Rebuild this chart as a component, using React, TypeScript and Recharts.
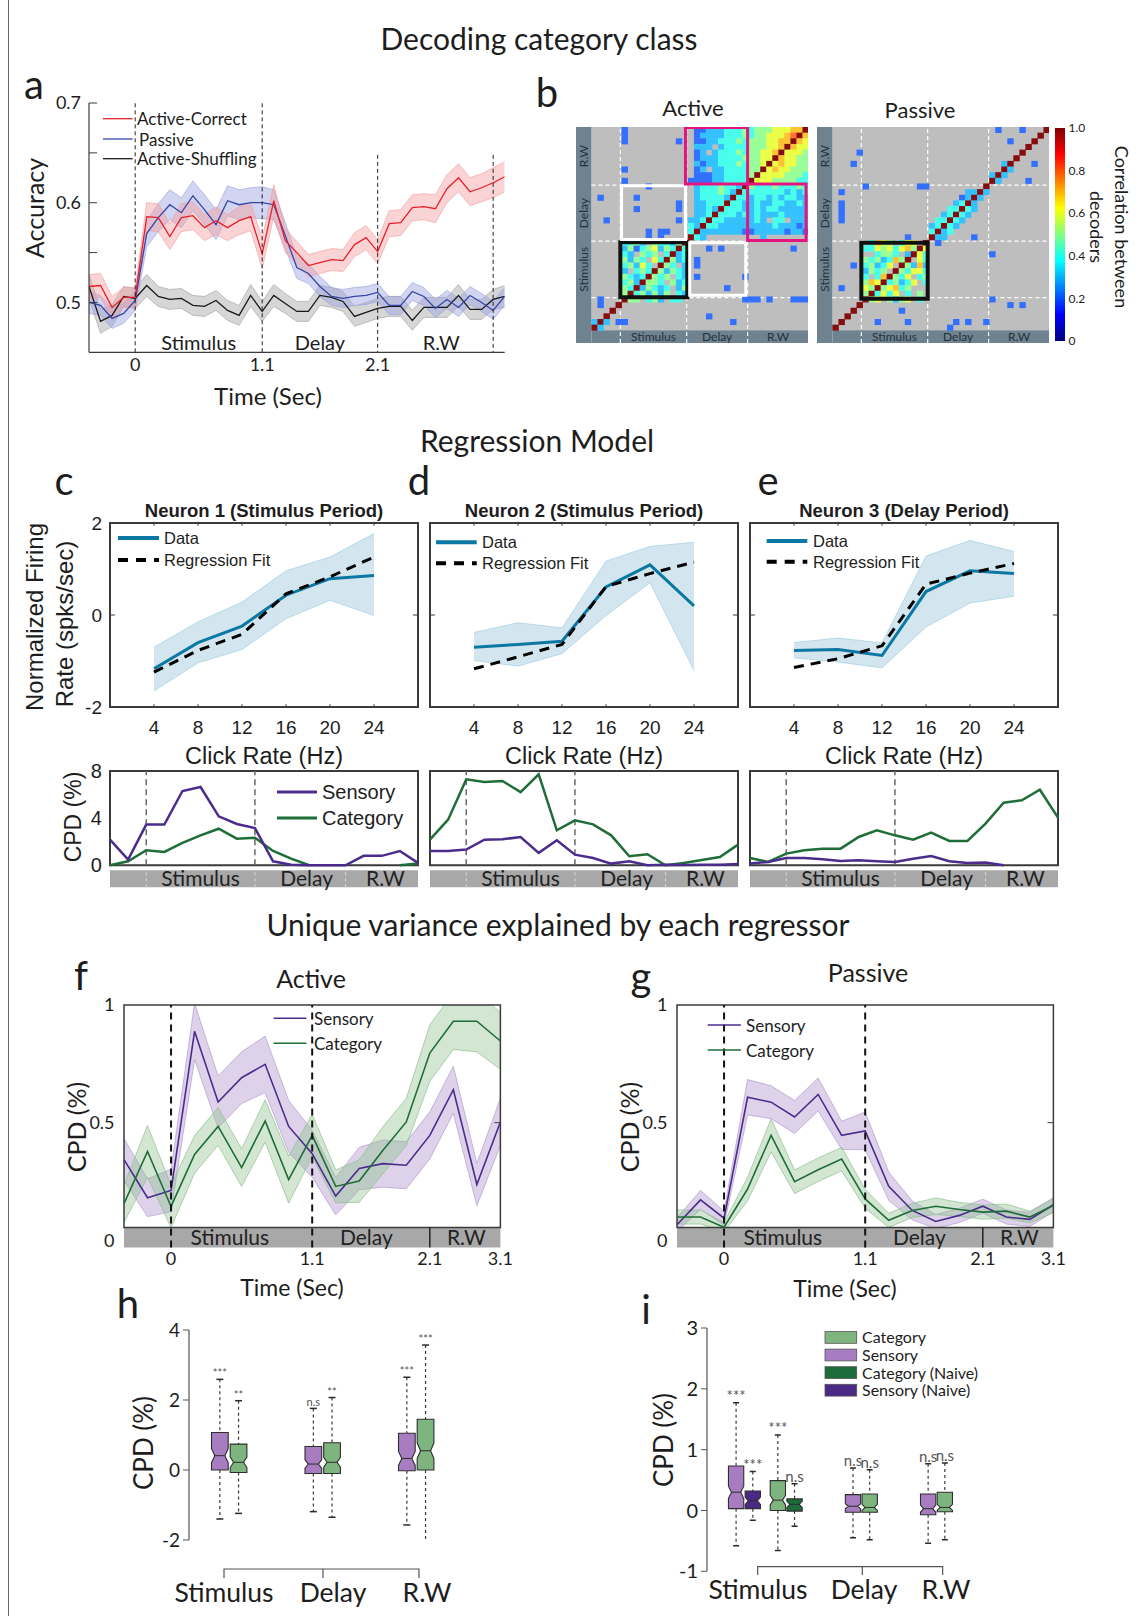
import React from "react";
import {
  ComposedChart,
  ScatterChart,
  BarChart,
  Area,
  Line,
  Bar,
  Scatter,
  XAxis,
  YAxis,
  ReferenceLine,
  ReferenceArea,
} from "recharts";

// ─── Shared styling ─────────────────────────────────────────────────────────

const LATO = "Lato, 'Open Sans', sans-serif";
const ARIAL = "'Liberation Sans', Arial, sans-serif";
const INK = "#1d1d1d";
const FRAME = "#3b3b3b";
const BAR_GRAY = "#a8a8a8";
const SENS = "#4b2c8c";
const CAT = "#1f6d37";

// ─── a: decoding accuracy ───────────────────────────────────────────────────

const ACC_TIME = [
  -0.4, -0.3, -0.2, -0.1, 0, 0.1, 0.2, 0.3, 0.4, 0.5, 0.6, 0.7, 0.8, 0.9, 1.0, 1.1, 1.2, 1.3, 1.4,
  1.5, 1.6, 1.7, 1.8, 1.9, 2.0, 2.1, 2.2, 2.3, 2.4, 2.5, 2.6, 2.7, 2.8, 2.9, 3.0, 3.1, 3.2,
];
const ACC_ACTIVE = [
  0.516, 0.517, 0.495, 0.505, 0.505, 0.586, 0.585, 0.566, 0.585, 0.587, 0.575, 0.582, 0.575, 0.582,
  0.586, 0.549, 0.602, 0.562, 0.55, 0.537, 0.54, 0.543, 0.542, 0.558, 0.565, 0.551, 0.579, 0.58,
  0.595, 0.596, 0.594, 0.614, 0.625, 0.611, 0.615, 0.62, 0.626,
];
const ACC_ACTIVE_SEM = [
  0.012, 0.012, 0.011, 0.01, 0.01, 0.014, 0.014, 0.013, 0.014, 0.014, 0.013, 0.014, 0.013, 0.014,
  0.014, 0.015, 0.016, 0.012, 0.011, 0.011, 0.011, 0.011, 0.011, 0.012, 0.012, 0.012, 0.013, 0.013,
  0.013, 0.013, 0.014, 0.014, 0.014, 0.014, 0.014, 0.015, 0.015,
];
const ACC_PASSIVE = [
  0.5, 0.497, 0.484, 0.489, 0.502, 0.569, 0.585, 0.598, 0.59, 0.607, 0.593, 0.578, 0.602, 0.598,
  0.6, 0.6, 0.598, 0.567, 0.535, 0.529, 0.516, 0.506, 0.504, 0.506, 0.507, 0.51, 0.497, 0.497,
  0.511, 0.506, 0.494, 0.503, 0.495, 0.507, 0.5, 0.492, 0.506,
];
const ACC_PASSIVE_SEM = [
  0.011, 0.01, 0.01, 0.01, 0.01, 0.013, 0.014, 0.015, 0.015, 0.015, 0.015, 0.015, 0.015, 0.015,
  0.015, 0.016, 0.015, 0.013, 0.011, 0.01, 0.01, 0.009, 0.009, 0.009, 0.009, 0.009, 0.009, 0.009,
  0.009, 0.009, 0.009, 0.009, 0.009, 0.009, 0.009, 0.009, 0.009,
];
const ACC_SHUFFLE = [
  0.516, 0.481, 0.487, 0.506, 0.504, 0.517, 0.506, 0.503, 0.504, 0.497, 0.496, 0.502, 0.492, 0.487,
  0.507, 0.491, 0.507, 0.499, 0.491, 0.491, 0.507, 0.505, 0.501, 0.486, 0.49, 0.494, 0.496, 0.496,
  0.482, 0.495, 0.495, 0.495, 0.507, 0.493, 0.493, 0.503, 0.506,
];
const ACC_SHUFFLE_SEM = [
  0.012, 0.012, 0.011, 0.01, 0.01, 0.011, 0.01, 0.01, 0.01, 0.01, 0.01, 0.01, 0.01, 0.01, 0.011,
  0.01, 0.011, 0.01, 0.01, 0.01, 0.01, 0.01, 0.01, 0.01, 0.01, 0.01, 0.01, 0.01, 0.01, 0.01, 0.01,
  0.01, 0.011, 0.01, 0.01, 0.01, 0.011,
];
const ACC_TICKS = [0.5, 0.55, 0.6, 0.65, 0.7];
const ACC_X_TICKS = [0, 1.1, 2.1];
const ACC_PERIODS = [
  { name: "Stimulus", from: 0, to: 1.1 },
  { name: "Delay", from: 1.1, to: 2.1 },
  { name: "R.W", from: 2.1, to: 3.2 },
];

const band = (m: number[], s: number[], i: number) => [m[i] - s[i], m[i] + s[i]];

const accData = ACC_TIME.map((t, i) => ({
  t,
  active: ACC_ACTIVE[i],
  activeBand: band(ACC_ACTIVE, ACC_ACTIVE_SEM, i),
  passive: ACC_PASSIVE[i],
  passiveBand: band(ACC_PASSIVE, ACC_PASSIVE_SEM, i),
  shuffle: ACC_SHUFFLE[i],
  shuffleBand: band(ACC_SHUFFLE, ACC_SHUFFLE_SEM, i),
}));

// ─── b: decoder correlation matrices (36 x 36 bins, top row first) ──────────
// '.' = not significant (grey), digits = tenths of correlation, X = 1.0

const ACTIVE_MATRIX = [
  "..... 2.......... .223334445 455566677X",
  "..... 2.......... .233334445 45566678X7",
  "..... 2........2. .223344454 5556677X76",
  "..... ........... .333.34444 555667X766",
  "..... ........... .23.344454 55667X6665",
  "..... ........... .233344445 5566X76655",
  "..... ........... .323344454 556X676655",
  "..... 2.......... .23.334444 55X6766555",
  "..... ........... .222334444 5X66665554",
  "..... 2.......... 2222334444 X666555544",
  "..... ....2...... .34445443X 5444544454",
  "..... ........... .3444543X4 4444443434",
  ".2... ..2........ .344443X44 3443434433",
  "..... .........2. .33444X443 3433443343",
  "..... ..2......2. .3343X4443 3434433333",
  "..... ........... .334X44434 3433343333",
  "..2.. .........2. 334X443333 343.44.333",
  "..... ........... 43X4433333 3333433323",
  "..... ....2.22... 4X33333332 2333332332",
  "..... ....2.2.... X43....... ..3.......",
  "..... 4453.54435X .......... ..........",
  "..... 352456354X4 ...2.2.... .......2..",
  "..... 43.545.4X34 .......... ..........",
  "..... 5354.64X534 .2........ ..........",
  "..... 45364.X54.3 .2........ ..........",
  "..... 3.454X53543 .......... ..........",
  "..... 5434X545.43 .2.......2 ..........",
  "..... 453X554.534 .......... ..........",
  "..... 54X35434.35 ......2... ..........",
  "..... 5X453535.43 .......... ..........",
  ".2... X55.453.44. .........2 22.2...222",
  ".2..X ........... .......... ..........",
  "...X. ........... .......... ..........",
  "..X.. ........... ...2...... ..........",
  "3X3.2 2.......... .......2.. ..........",
  "X3... ........... .......... ..........",
];

const PASSIVE_MATRIX = [
  "..... ........... .......... .2...2...X",
  "..... ........... .......... ........X.",
  "..... ........... .......... ...2...X..",
  "..... ........... .......... ......X...",
  "....2 ........... .......... .....X....",
  "..... ........... .......... ....X.....",
  "...2. ........... .......... ..3X...2..",
  "..... ........... .......... ..X3......",
  "..... ........... .......... 3X3.......",
  "..... ........... .......... X3....2...",
  "..... 2........22 .........X ..........",
  ".2... ........... ......33X3 ..........",
  "..... ........... .....23X3. ..........",
  ".2... ........... ....34X3.. ..........",
  ".2... ........... ...44X43.. ..........",
  ".2... ........... ..34X43... ..........",
  ".2... ........... .44X43.... ..........",
  "..... ........... 34X43..... ..........",
  "..... ........... 4X34...... ..........",
  "..... .......2... X33....2.. ..........",
  "..... .4765.466.X .2........ ..........",
  "..... 446564675X6 .......... ..........",
  "..... ..4554.3X64 .......... 2.........",
  "..... 5453475X.64 .......... ..........",
  "...2. 45346.X5373 .......... ..........",
  "..... 3545.X54664 .......... ..........",
  "..... 4.47X546.45 .......... ..........",
  "..... 576X45346.4 .......... ..........",
  ".2... 65X56745... .......... ..........",
  "..... 5X4646.4.5. .......... ..........",
  "..... X56.5356.4. .......... 2.........",
  "....X ........... .......... ...2.2....",
  "...X. ......2.... .......... ..........",
  "..X.. ........... .......... ..........",
  ".X... ..2....2... ....2.2..2 ..........",
  "X.... ........... ...2...... ..........",
];

const HEAT_N = 36;
const HEAT_COL_BOUNDS = [4.8, 15.8, 25.9, 36];
const HEAT_ROW_BOUNDS = [5.8, 15.8, 25.7, 36];
const HEAT_PERIODS = ["Stimulus", "Delay", "R.W"];
const CBAR_TICKS = [0, 0.2, 0.4, 0.6, 0.8, 1.0];
const CBAR_DATA = [{ k: "bar", v: 1 }];
const JET_STOPS = [0, 0.125, 0.375, 0.625, 0.875, 1];

const ACTIVE_BOXES = [
  { x1: 4.8, x2: 15.9, y1: 5.85, y2: 15.6, color: "#111111", w: 4 },
  { x1: 5.0, x2: 15.6, y1: 16.1, y2: 25.6, color: "#ffffff", w: 3 },
  { x1: 16.3, x2: 25.6, y1: 6.2, y2: 15.5, color: "#ffffff", w: 3 },
  { x1: 15.6, x2: 25.9, y1: 25.9, y2: 35.9, color: "#e4157f", w: 3 },
  { x1: 25.9, x2: 35.6, y1: 15.9, y2: 25.9, color: "#e4157f", w: 3 },
];
const PASSIVE_BOXES = [{ x1: 4.8, x2: 15.8, y1: 5.6, y2: 15.5, color: "#111111", w: 4 }];

function parseMatrix(rows: string[]) {
  const cells: { x: number; y: number; v: number }[] = [];
  rows.forEach((row, i) => {
    const r = HEAT_N - 1 - i;
    row
      .replace(/ /g, "")
      .split("")
      .forEach((ch, c) => {
        if (ch === ".") return;
        cells.push({ x: c + 0.5, y: r + 0.5, v: ch === "X" ? 1 : Number(ch) / 10 });
      });
  });
  return cells;
}

// MATLAB jet, softened a little toward white like the printed figure
function jet(v: number, soften = 0) {
  const f = (a: number) => {
    const c = Math.max(0, Math.min(1, 1.5 - Math.abs(4 * v - a)));
    return Math.round(255 * (c + (1 - c) * soften));
  };
  return `rgb(${f(3)},${f(2)},${f(1)})`;
}

// ─── c–e: single neuron regression ──────────────────────────────────────────

const CLICK_RATES = [4, 8, 12, 16, 20, 24];
const N1_DATA = [-1.17, -0.6, -0.24, 0.43, 0.79, 0.86];
const N1_UPPER = [-0.7, -0.15, 0.28, 0.96, 1.26, 1.77];
const N1_LOWER = [-1.65, -1.04, -0.75, -0.08, 0.32, -0.01];
const N1_FIT = [-1.24, -0.77, -0.42, 0.46, 0.83, 1.26];
const N2_DATA = [-0.7, -0.64, -0.57, 0.61, 1.09, 0.2];
const N2_UPPER = [-0.38, -0.17, -0.28, 1.17, 1.49, 1.58];
const N2_LOWER = [-0.99, -1.11, -0.84, -0.01, 0.7, -1.2];
const N2_FIT = [-1.17, -0.91, -0.64, 0.62, 0.9, 1.15];
const N3_DATA = [-0.77, -0.75, -0.88, 0.51, 0.96, 0.9];
const N3_UPPER = [-0.6, -0.5, -0.61, 1.28, 1.62, 1.38];
const N3_LOWER = [-0.93, -1.02, -1.15, -0.26, 0.26, 0.41];
const N3_FIT = [-1.14, -0.95, -0.67, 0.67, 0.91, 1.12];

const CPD_BINS = [0, 1, 2, 3, 4, 5, 6, 7, 8, 9, 10, 11, 12, 13, 14, 15, 16, 17];
const N1_SENS = [2.17, 0.48, 3.45, 3.45, 6.3, 6.64, 4.15, 3.5, 3.16, 0.34, 0.05, 0, 0, 0, 0.8, 0.8, 1.21, 0.2];
const N1_CAT = [0, 0.34, 1.27, 1.13, 1.9, 2.54, 3.1, 2.26, 2.34, 1.21, 0.56, 0, null, null, null, null, 0, 0.14];
const N2_SENS = [1.21, 1.21, 1.33, 2.17, 2.2, 2.4, 1.05, 2.12, 0.9, 0.62, 0.14, 0.34, 0, 0.05, 0.02, 0.05, 0.05, 0.1];
const N2_CAT = [2.17, 3.87, 7.29, 7.06, 7.15, 6.21, 7.71, 2.97, 3.81, 3.47, 2.54, 0.76, 0.93, 0, 0.2, 0.45, 0.7, 1.75];
const N3_SENS = [0.14, 0.28, 0.62, 0.62, 0.51, 0.37, 0.42, 0.34, 0.28, 0.56, 0.79, 0.34, 0.2, 0.23, 0, null, null, null];
const N3_CAT = [0.62, 0.28, 0.99, 1.27, 1.41, 1.41, 2.4, 2.97, 2.54, 2.17, 2.77, 2.06, 2.06, 3.53, 5.31, 5.51, 6.41, 4.04];
const NEURON_PERIODS = [
  { name: "Stimulus", from: 2, to: 8 },
  { name: "Delay", from: 8, to: 13.7 },
  { name: "R.W", from: 13.4, to: 17 },
];

// ─── f–g: population CPD ────────────────────────────────────────────────────

const TIME_BINS = [0, 1, 2, 3, 4, 5, 6, 7, 8, 9, 10, 11, 12, 13, 14, 15, 16];
const TIME_TICKS = [2, 8, 13, 16];
const TIME_TICK_LABELS: Record<number, string> = { 2: "0", 8: "1.1", 13: "2.1", 16: "3.1" };
const F_SENS = [0.343, 0.181, 0.212, 0.888, 0.588, 0.691, 0.748, 0.484, 0.368, 0.188, 0.305, 0.326, 0.319, 0.446, 0.64, 0.237, 0.503];
const F_SENS_SEM = [0.09, 0.08, 0.09, 0.12, 0.11, 0.11, 0.12, 0.11, 0.1, 0.08, 0.09, 0.1, 0.1, 0.1, 0.1, 0.09, 0.1];
const F_CAT = [0.156, 0.378, 0.144, 0.365, 0.484, 0.309, 0.507, 0.258, 0.446, 0.229, 0.252, 0.382, 0.503, 0.796, 0.931, 0.931, 0.847];
const F_CAT_SEM = [0.08, 0.11, 0.09, 0.08, 0.08, 0.08, 0.09, 0.1, 0.09, 0.07, 0.09, 0.1, 0.1, 0.12, 0.12, 0.13, 0.12];
const G_SENS = [0.066, 0.172, 0.094, 0.608, 0.587, 0.524, 0.62, 0.446, 0.465, 0.23, 0.127, 0.08, 0.106, 0.145, 0.099, 0.089, 0.151];
const G_SENS_SEM = [0.03, 0.04, 0.03, 0.075, 0.07, 0.07, 0.07, 0.06, 0.08, 0.06, 0.04, 0.03, 0.03, 0.03, 0.03, 0.03, 0.03];
const G_CAT = [0.099, 0.099, 0.056, 0.218, 0.446, 0.249, 0.3, 0.345, 0.176, 0.085, 0.127, 0.145, 0.131, 0.12, 0.124, 0.099, 0.148];
const G_CAT_SEM = [0.03, 0.03, 0.02, 0.05, 0.07, 0.05, 0.05, 0.05, 0.04, 0.03, 0.03, 0.035, 0.03, 0.03, 0.03, 0.025, 0.03];
const TIME_PERIODS = [
  { name: "Stimulus", from: 1, to: 8 },
  { name: "Delay", from: 8, to: 12.6 },
  { name: "R.W", from: 13.1, to: 16 },
];

// ─── h–i: CPD box plots ─────────────────────────────────────────────────────

const H_POS = [0, 1, 5, 6, 10, 11];
const H_KIND = ["sens", "cat", "sens", "cat", "sens", "cat"];
const H_LOW = [-1.4, -1.24, -1.19, -1.35, -1.57, -2.11];
const H_Q1 = [0.0, -0.07, -0.1, -0.1, -0.02, 0.0];
const H_MED = [0.41, 0.22, 0.17, 0.22, 0.33, 0.55];
const H_Q3 = [1.07, 0.74, 0.67, 0.78, 1.05, 1.45];
const H_HIGH = [2.59, 1.98, 1.76, 2.07, 2.65, 3.57];
const H_NOTCH = [0.2, 0.15, 0.12, 0.14, 0.2, 0.22];
const H_SIG = ["***", "**", "n.s", "**", "***", "***"];

const I_POS = [0, 2, 5, 7, 14, 16, 23, 25];
const I_KIND = ["sens", "sensN", "cat", "catN", "sens", "cat", "sens", "cat"];
const I_LOW = [-0.58, -0.16, -0.66, -0.26, -0.45, -0.48, -0.54, -0.48];
const I_Q1 = [0.03, 0.03, 0.0, -0.01, -0.03, -0.03, -0.07, -0.02];
const I_MED = [0.3, 0.16, 0.17, 0.1, 0.07, 0.05, 0.03, 0.05];
const I_Q3 = [0.73, 0.32, 0.49, 0.19, 0.26, 0.27, 0.27, 0.3];
const I_HIGH = [1.77, 0.64, 1.24, 0.44, 0.7, 0.67, 0.77, 0.78];
const I_NOTCH = [0.1, 0.06, 0.08, 0.05, 0.04, 0.05, 0.06, 0.05];
const I_SIG = ["***", "***", "***", "n.s", "n.s", "n.s", "n.s", "n.s"];

const BOX_FILL: Record<string, string> = {
  sens: "#a77cc0",
  cat: "#7eb57f",
  sensN: "#4a2a84",
  catN: "#1d6b38",
};
const I_LEGEND = [
  { label: "Category", kind: "cat" },
  { label: "Sensory", kind: "sens" },
  { label: "Category (Naive)", kind: "catN" },
  { label: "Sensory (Naive)", kind: "sensN" },
];

function boxTable(n: number, pos: number[], cols: any) {
  const rows: any[] = Array.from({ length: n }, (_, k) => ({ slot: k }));
  pos.forEach((p, i) => {
    rows[p] = {
      slot: p,
      kind: cols.kind[i],
      low: cols.low[i],
      q1: cols.q1[i],
      med: cols.med[i],
      q3: cols.q3[i],
      high: cols.high[i],
      notch: cols.notch[i],
      sig: cols.sig[i],
    };
  });
  return rows;
}

const hData = boxTable(12, H_POS, { kind: H_KIND, low: H_LOW, q1: H_Q1, med: H_MED, q3: H_Q3, high: H_HIGH, notch: H_NOTCH, sig: H_SIG });
const iData = boxTable(26, I_POS, { kind: I_KIND, low: I_LOW, q1: I_Q1, med: I_MED, q3: I_Q3, high: I_HIGH, notch: I_NOTCH, sig: I_SIG });

// ─── Helpers ────────────────────────────────────────────────────────────────

function At({ x, y, children }: { x: number; y: number; children: React.ReactNode }) {
  return <div style={{ position: "absolute", left: x, top: y }}>{children}</div>;
}

function Txt({ x, y, size, children, font = LATO, rotate = 0, weight = 400, left = false }: any) {
  return (
    <div
      style={{
        position: "absolute",
        left: x,
        top: y,
        transform: `translate(${left ? "0" : "-50%"}, -50%) rotate(${rotate}deg)`,
        fontFamily: font,
        fontSize: size,
        fontWeight: weight,
        color: INK,
        lineHeight: 1,
        whiteSpace: "nowrap",
      }}
    >
      {children}
    </div>
  );
}

const seg = (x1: number, y1: number, x2: number, y2: number) => [
  { x: x1, y: y1 },
  { x: x2, y: y2 },
];

// ─── Panels ─────────────────────────────────────────────────────────────────

function PanelA() {
  const P = { x: 88.8, y: 102.7, w: 415.7, h: 249.3 };
  const L = 60, T = 16, R = 10, B = 32;
  const fmt = (v: number) => (Math.abs(v * 10 - Math.round(v * 10)) < 1e-6 ? v.toFixed(1) : "");
  const tick = { fontSize: 18, fill: INK, fontFamily: LATO };
  return (
    <At x={P.x - L} y={P.y - T}>
      <ComposedChart width={L + P.w + R} height={T + P.h + B} data={accData} margin={{ top: T, right: R, bottom: 0, left: 0 }}>
        <XAxis type="number" dataKey="t" domain={[-0.4, 3.2]} allowDataOverflow ticks={ACC_X_TICKS} interval={0} height={B} tickLine={false} tickSize={0} tickMargin={6} axisLine={{ stroke: FRAME, strokeWidth: 1.2 }} tick={tick} />
        <YAxis type="number" domain={[0.45, 0.7]} allowDataOverflow ticks={ACC_TICKS} interval={0} width={L} tickLine={false} tickSize={0} tickMargin={8} axisLine={{ stroke: FRAME, strokeWidth: 1.2 }} tick={tick} tickFormatter={fmt} />
        <Area dataKey="shuffleBand" stroke="#a0a0a0" strokeWidth={0.6} fill="#b5b5b5" fillOpacity={0.55} isAnimationActive={false} />
        <Area dataKey="passiveBand" stroke="#98a0dc" strokeWidth={0.6} fill="#9aa2e0" fillOpacity={0.45} isAnimationActive={false} />
        <Area dataKey="activeBand" stroke="#f29a9a" strokeWidth={0.6} fill="#f3a0a0" fillOpacity={0.45} isAnimationActive={false} />
        <Line dataKey="shuffle" stroke="#1a1a1a" strokeWidth={1.3} dot={false} isAnimationActive={false} />
        <Line dataKey="passive" stroke="#3446a8" strokeWidth={1.3} dot={false} isAnimationActive={false} />
        <Line dataKey="active" stroke="#e8202a" strokeWidth={1.3} dot={false} isAnimationActive={false} />
        <ReferenceLine x={0} stroke="#222" strokeDasharray="4 3" />
        <ReferenceLine x={1.1} stroke="#222" strokeDasharray="4 3" />
        <ReferenceLine segment={seg(2.1, 0.648, 2.1, 0.45)} stroke="#222" strokeDasharray="4 3" />
        <ReferenceLine segment={seg(3.1, 0.648, 3.1, 0.45)} stroke="#222" strokeDasharray="4 3" />
        {ACC_TICKS.map((v) => (
          <ReferenceLine key={v} segment={seg(-0.4, v, -0.33, v)} stroke={FRAME} />
        ))}
        {ACC_PERIODS.map((p) => (
          <ReferenceArea key={p.name} x1={p.from} x2={p.to} y1={0.45} y2={0.468} fill="none" stroke="none" label={{ value: p.name, position: "center", fontSize: 20, fill: INK, fontFamily: LATO }} />
        ))}
      </ComposedChart>
    </At>
  );
}

const HM = { top: 126.7, w: 232.5, h: 216, side: 15.4, bottom: 12.7 };
const HM_CW = (HM.w - HM.side) / HEAT_N;
const HM_CH = (HM.h - HM.bottom) / HEAT_N;
const HM_X0 = -HM.side / HM_CW;
const HM_Y0 = -HM.bottom / HM_CH;

function Heatmap({ left, rows, boxes }: { left: number; rows: string[]; boxes: any[] }) {
  const cells = parseMatrix(rows);
  const CellShape = (p: any) => (
    <rect x={p.cx - HM_CW / 2} y={p.cy - HM_CH / 2} width={HM_CW + 0.4} height={HM_CH + 0.4} fill={jet(p.payload.v, p.payload.v === 1 ? 0.05 : 0.2)} />
  );
  const barLabel = { fontSize: 12, fill: "#26313a", fontFamily: LATO };
  return (
    <At x={left} y={HM.top}>
      <ScatterChart width={HM.w} height={HM.h} margin={{ top: 0, right: 0, bottom: 0, left: 0 }}>
        <XAxis type="number" dataKey="x" domain={[HM_X0, HEAT_N]} hide allowDataOverflow />
        <YAxis type="number" dataKey="y" domain={[HM_Y0, HEAT_N]} hide allowDataOverflow />
        <ReferenceArea x1={0} x2={HEAT_N} y1={0} y2={HEAT_N} fill="#bebebe" fillOpacity={1} zIndex={-10} />
        <ReferenceArea x1={HM_X0} x2={0} y1={HM_Y0} y2={HEAT_N} fill="#6f8290" fillOpacity={1} />
        <ReferenceArea x1={0} x2={HEAT_N} y1={HM_Y0} y2={0} fill="#6f8290" fillOpacity={1} />
        {HEAT_PERIODS.map((name, i) => (
          <ReferenceArea key={"c" + name} x1={HEAT_COL_BOUNDS[i]} x2={HEAT_COL_BOUNDS[i + 1]} y1={HM_Y0} y2={0} fill="none" label={{ value: name, position: "center", ...barLabel }} />
        ))}
        {HEAT_PERIODS.map((name, i) => (
          <ReferenceArea key={"r" + name} x1={HM_X0} x2={0} y1={HEAT_ROW_BOUNDS[i]} y2={HEAT_ROW_BOUNDS[i + 1]} fill="none" label={{ value: name, position: "center", angle: -90, ...barLabel }} />
        ))}
        <Scatter data={cells} shape={CellShape} isAnimationActive={false} />
        {HEAT_COL_BOUNDS.slice(0, 3).map((c) => (
          <ReferenceLine key={"vx" + c} segment={seg(c, HM_Y0, c, HEAT_N)} stroke="#ffffff" strokeWidth={1.2} strokeDasharray="4 3" />
        ))}
        {HEAT_ROW_BOUNDS.slice(0, 3).map((r) => (
          <ReferenceLine key={"hy" + r} segment={seg(0, r, HEAT_N, r)} stroke="#ffffff" strokeWidth={1.2} strokeDasharray="4 3" />
        ))}
        {boxes.map((b, i) => (
          <ReferenceArea key={"b" + i} x1={b.x1} x2={b.x2} y1={b.y1} y2={b.y2} fill="none" stroke={b.color} strokeWidth={b.w} zIndex={900} />
        ))}
      </ScatterChart>
    </At>
  );
}

function Colorbar() {
  const P = { x: 1055, y: 128, w: 9.5, h: 213 };
  const T = 10, R = 40;
  return (
    <At x={P.x} y={P.y - T}>
      <BarChart width={P.w + R} height={P.h + 2 * T} data={CBAR_DATA} margin={{ top: T, right: 0, bottom: T, left: 0 }} barCategoryGap={0}>
        <XAxis type="category" dataKey="k" hide />
        <YAxis orientation="right" type="number" domain={[0, 1]} ticks={CBAR_TICKS} interval={0} width={R} tickLine={false} axisLine={false} tickSize={0} tickMargin={4} tick={{ fontSize: 12, fill: INK, fontFamily: LATO }} tickFormatter={(v: number) => (v === 0 ? "0" : v.toFixed(1))} />
        <Bar dataKey="v" fill="url(#jetBar)" isAnimationActive={false} />
      </BarChart>
    </At>
  );
}

function NeuronFit({ left, data, upper, lower, fit, yTicks }: any) {
  const P = { x: left, y: 522.7, w: 308, h: 184 };
  const L = 50, T = 16, R = 4, B = 36;
  const rows = CLICK_RATES.map((rate, i) => ({ rate, data: data[i], fit: fit[i], band: [lower[i], upper[i]] }));
  const tick = { fontSize: 19, fill: INK, fontFamily: ARIAL };
  return (
    <At x={P.x - L} y={P.y - T}>
      <ComposedChart width={L + P.w + R} height={T + P.h + B} data={rows} margin={{ top: T, right: R, bottom: 0, left: 0 }}>
        <XAxis type="number" dataKey="rate" domain={[0, 28]} ticks={CLICK_RATES} interval={0} height={B} tickLine={false} axisLine={false} tickSize={0} tickMargin={14} tick={tick} />
        <YAxis type="number" domain={[-2, 2]} ticks={[-2, 0, 2]} interval={0} width={L} tickLine={false} axisLine={false} tickSize={0} tickMargin={8} tick={yTicks ? tick : false} />
        <Area dataKey="band" fill="#d3e6ef" fillOpacity={1} stroke="#a9d2e4" strokeWidth={0.8} isAnimationActive={false} />
        <Line dataKey="data" stroke="#0b77a3" strokeWidth={3} dot={false} isAnimationActive={false} />
        <Line dataKey="fit" stroke="#000000" strokeWidth={3} strokeDasharray="10 7" dot={false} isAnimationActive={false} />
        <ReferenceArea x1={0} x2={28} y1={-2} y2={2} fill="none" stroke={FRAME} strokeWidth={2} />
        {CLICK_RATES.map((r) => (
          <ReferenceLine key={"b" + r} segment={seg(r, -2, r, -1.94)} stroke={FRAME} />
        ))}
        {CLICK_RATES.map((r) => (
          <ReferenceLine key={"t" + r} segment={seg(r, 2, r, 1.94)} stroke={FRAME} />
        ))}
        <ReferenceLine segment={seg(0, 0, 0.45, 0)} stroke={FRAME} />
        <ReferenceLine segment={seg(27.55, 0, 28, 0)} stroke={FRAME} />
      </ComposedChart>
    </At>
  );
}

function NeuronCpd({ left, sens, cat, yTicks }: any) {
  const P = { x: left, y: 770.7, w: 308, h: 116.3 };
  const L = 50, T = 16, R = 4, B = 4;
  const rows = CPD_BINS.map((b, i) => ({ b, sens: sens[i], cat: cat[i] }));
  return (
    <At x={P.x - L} y={P.y - T}>
      <ComposedChart width={L + P.w + R} height={T + P.h + B} data={rows} margin={{ top: T, right: R, bottom: B, left: 0 }}>
        <XAxis type="number" dataKey="b" domain={[0, 17]} hide />
        <YAxis type="number" domain={[-1.87, 8]} ticks={[0, 4, 8]} interval={0} width={L} tickLine={false} axisLine={false} tickSize={0} tickMargin={8} tick={yTicks ? { fontSize: 20, fill: INK, fontFamily: ARIAL } : false} />
        <ReferenceArea x1={0} x2={17} y1={-1.87} y2={-0.42} fill={BAR_GRAY} fillOpacity={1} />
        {[2, 8, 13].map((x) => (
          <ReferenceLine key={"s" + x} segment={seg(x, -1.87, x, -0.42)} stroke="#dadada" strokeDasharray="3 3" />
        ))}
        {NEURON_PERIODS.map((p) => (
          <ReferenceArea key={p.name} x1={p.from} x2={p.to} y1={-1.87} y2={-0.42} fill="none" label={{ value: p.name, position: "center", fontSize: 21, fill: "#222", fontFamily: LATO }} />
        ))}
        <ReferenceLine segment={seg(2, 0, 2, 8)} stroke="#6a6a6a" strokeWidth={1.5} strokeDasharray="6 4" />
        <ReferenceLine segment={seg(8, 0, 8, 8)} stroke="#6a6a6a" strokeWidth={1.5} strokeDasharray="6 4" />
        <ReferenceArea x1={0} x2={17} y1={0} y2={8} fill="none" stroke={FRAME} strokeWidth={2} />
        <Line dataKey="cat" stroke={CAT} strokeWidth={2.5} dot={false} isAnimationActive={false} />
        <Line dataKey="sens" stroke={SENS} strokeWidth={2.5} dot={false} isAnimationActive={false} />
      </ComposedChart>
    </At>
  );
}

function TimeCpd({ left, top, sens, sensSem, cat, catSem }: any) {
  const P = { x: left, y: top, w: 376.4, h: 242.4 };
  const L = 55, T = 16, R = 22, B = 28;
  const rows = TIME_BINS.map((b, i) => ({
    b,
    sens: sens[i],
    sensBand: band(sens, sensSem, i),
    cat: cat[i],
    catBand: band(cat, catSem, i),
  }));
  const tick = { fontSize: 18, fill: INK, fontFamily: LATO };
  return (
    <At x={P.x - L} y={P.y - T}>
      <ComposedChart width={L + P.w + R} height={T + P.h + B} data={rows} margin={{ top: T, right: R, bottom: 0, left: 0 }}>
        <XAxis type="number" dataKey="b" domain={[0, 16]} ticks={TIME_TICKS} interval={0} tickFormatter={(v: number) => TIME_TICK_LABELS[v]} height={B} tickLine={false} axisLine={false} tickSize={0} tickMargin={5} tick={tick} />
        <YAxis type="number" domain={[-0.03, 1]} allowDataOverflow ticks={[0, 0.5, 1]} interval={0} width={L} tickLine={false} axisLine={false} tickSize={0} tickMargin={9.5} tick={tick} />
        <Area dataKey="sensBand" fill="#b49bd0" fillOpacity={0.45} stroke="#b49bd0" strokeWidth={0.7} isAnimationActive={false} />
        <Area dataKey="catBand" fill="#8fc08f" fillOpacity={0.4} stroke="#8fc08f" strokeWidth={0.7} isAnimationActive={false} />
        <Line dataKey="sens" stroke={SENS} strokeWidth={1.6} dot={false} isAnimationActive={false} />
        <Line dataKey="cat" stroke={CAT} strokeWidth={1.6} dot={false} isAnimationActive={false} />
        <ReferenceArea x1={0} x2={16} y1={-0.03} y2={0.055} fill={BAR_GRAY} fillOpacity={1} />
        {TIME_PERIODS.map((p) => (
          <ReferenceArea key={p.name} x1={p.from} x2={p.to} y1={-0.03} y2={0.055} fill="none" label={{ value: p.name, position: "center", fontSize: 21, fill: "#222", fontFamily: LATO }} />
        ))}
        <ReferenceArea x1={0} x2={16} y1={0.055} y2={1} fill="none" stroke={FRAME} strokeWidth={1.5} />
        <ReferenceLine segment={seg(13, -0.03, 13, 0.055)} stroke="#222" strokeWidth={1.5} />
        <ReferenceLine x={2} stroke="#111" strokeWidth={2} strokeDasharray="7 5" />
        <ReferenceLine x={8} stroke="#111" strokeWidth={2} strokeDasharray="7 5" />
        <ReferenceLine segment={seg(15.75, 0.5, 16, 0.5)} stroke={FRAME} />
      </ComposedChart>
    </At>
  );
}

function makeBoxShape(boxW: number, capW: number, sigSize: number) {
  return (props: any) => {
    const { x, y, width, height, payload } = props;
    if (!payload || payload.low == null || !height) return <g />;
    const top = Math.min(y, y + height);
    const k = Math.abs(height) / (payload.high - payload.low);
    const py = (v: number) => top + (payload.high - v) * k;
    const cx = x + width / 2;
    const x0 = cx - boxW / 2;
    const x1 = cx + boxW / 2;
    const ins = boxW * 0.2;
    const nHi = Math.min(payload.q3, payload.med + payload.notch);
    const nLo = Math.max(payload.q1, payload.med - payload.notch);
    const pts = [
      [x0, py(payload.q3)],
      [x1, py(payload.q3)],
      [x1, py(nHi)],
      [x1 - ins, py(payload.med)],
      [x1, py(nLo)],
      [x1, py(payload.q1)],
      [x0, py(payload.q1)],
      [x0, py(nLo)],
      [x0 + ins, py(payload.med)],
      [x0, py(nHi)],
    ]
      .map((p) => p.join(","))
      .join(" ");
    return (
      <g>
        <line x1={cx} x2={cx} y1={py(payload.high)} y2={py(payload.q3)} stroke="#3a3a3a" strokeWidth={1.2} strokeDasharray="3 3" />
        <line x1={cx} x2={cx} y1={py(payload.q1)} y2={py(payload.low)} stroke="#3a3a3a" strokeWidth={1.2} strokeDasharray="3 3" />
        <line x1={cx - capW / 2} x2={cx + capW / 2} y1={py(payload.high)} y2={py(payload.high)} stroke="#2a2a2a" strokeWidth={1.5} />
        <line x1={cx - capW / 2} x2={cx + capW / 2} y1={py(payload.low)} y2={py(payload.low)} stroke="#2a2a2a" strokeWidth={1.5} />
        <polygon points={pts} fill={BOX_FILL[payload.kind]} stroke="#2e2e2e" strokeWidth={1.1} />
        <line x1={x0 + ins} x2={x1 - ins} y1={py(payload.med)} y2={py(payload.med)} stroke="#2e2e2e" strokeWidth={1} />
        <text x={cx} y={py(payload.high) - 2} textAnchor="middle" fontSize={sigSize} fill="#555" fontFamily={LATO}>
          {payload.sig}
        </text>
      </g>
    );
  };
}

function BoxPanel({ plot, data, domain, ticks, padLeft, boxW, capW, sigSize, tickSize }: any) {
  const L = 60, T = 16, R = 2, B = 14;
  const Shape = makeBoxShape(boxW, capW, sigSize);
  return (
    <At x={plot.x - L} y={plot.y - T}>
      <BarChart width={L + plot.w + R} height={T + plot.h + B} data={data} margin={{ top: T, right: R, bottom: B, left: 0 }} barCategoryGap={0}>
        <XAxis type="category" dataKey="slot" hide padding={{ left: padLeft, right: 4 }} />
        <YAxis type="number" domain={domain} allowDataOverflow ticks={ticks} interval={0} width={L} tickSize={6} tickMargin={3} tickLine={{ stroke: "#555" }} axisLine={{ stroke: "#555", strokeWidth: 1.2 }} tick={{ fontSize: tickSize, fill: INK, fontFamily: LATO }} />
        <Bar dataKey={(d: any) => (d.low == null ? null : [d.low, d.high])} shape={Shape} isAnimationActive={false} />
      </BarChart>
    </At>
  );
}

// ─── App ────────────────────────────────────────────────────────────────────

export default function App() {
  return (
    <div style={{ position: "absolute", left: 0, top: 0, width: 1136, height: 1616, background: "#fff", overflow: "hidden" }}>
      <svg width={0} height={0} style={{ position: "absolute" }}>
        <defs>
          <linearGradient id="jetBar" x1="0" y1="1" x2="0" y2="0">
            {JET_STOPS.map((s) => (
              <stop key={s} offset={s} stopColor={jet(s)} />
            ))}
          </linearGradient>
        </defs>
      </svg>

      {/* section titles */}
      <Txt x={539} y={38} size={30}>Decoding category class</Txt>
      <Txt x={537} y={440} size={30}>Regression Model</Txt>
      <Txt x={558} y={924} size={30}>Unique variance explained by each regressor</Txt>

      {/* panel letters */}
      <Txt x={34} y={84} size={40}>a</Txt>
      <Txt x={547} y={92} size={40}>b</Txt>
      <Txt x={64} y={480} size={40}>c</Txt>
      <Txt x={419} y={480} size={40}>d</Txt>
      <Txt x={768} y={480} size={40}>e</Txt>
      <Txt x={81} y={975} size={40}>f</Txt>
      <Txt x={641} y={976} size={40}>g</Txt>
      <Txt x={128} y={1303} size={40}>h</Txt>
      <Txt x={646} y={1309} size={40}>i</Txt>

      {/* a */}
      <PanelA />
      <Txt x={34} y={208} size={25} rotate={-90}>Accuracy</Txt>
      <Txt x={268} y={396} size={24}>Time (Sec)</Txt>
      <Txt x={137} y={118} size={17} left>Active-Correct</Txt>
      <Txt x={139} y={138.5} size={17} left>Passive</Txt>
      <Txt x={137} y={158} size={17} left>Active-Shuffling</Txt>

      {/* b */}
      <Txt x={693} y={108} size={22}>Active</Txt>
      <Txt x={920} y={110} size={22}>Passive</Txt>
      <Heatmap left={575.6} rows={ACTIVE_MATRIX} boxes={ACTIVE_BOXES} />
      <Heatmap left={816.8} rows={PASSIVE_MATRIX} boxes={PASSIVE_BOXES} />
      <Colorbar />
      <Txt x={1122} y={227} size={18} rotate={90}>Correlation between</Txt>
      <Txt x={1097} y={227} size={18} rotate={90}>decoders</Txt>

      {/* c–e */}
      <Txt x={264} y={511} size={18.5} font={ARIAL} weight={700}>Neuron 1 (Stimulus Period)</Txt>
      <Txt x={584} y={511} size={18.5} font={ARIAL} weight={700}>Neuron 2 (Stimulus Period)</Txt>
      <Txt x={904} y={511} size={18.5} font={ARIAL} weight={700}>Neuron 3 (Delay Period)</Txt>
      <NeuronFit left={110} data={N1_DATA} upper={N1_UPPER} lower={N1_LOWER} fit={N1_FIT} yTicks />
      <NeuronFit left={430} data={N2_DATA} upper={N2_UPPER} lower={N2_LOWER} fit={N2_FIT} />
      <NeuronFit left={750} data={N3_DATA} upper={N3_UPPER} lower={N3_LOWER} fit={N3_FIT} />
      <Txt x={264} y={757} size={23.5} font={ARIAL}>Click Rate (Hz)</Txt>
      <Txt x={584} y={757} size={23.5} font={ARIAL}>Click Rate (Hz)</Txt>
      <Txt x={904} y={757} size={23.5} font={ARIAL}>Click Rate (Hz)</Txt>
      <Txt x={35} y={617} size={24} font={ARIAL} rotate={-90}>Normalized Firing</Txt>
      <Txt x={65} y={624} size={24} font={ARIAL} rotate={-90}>Rate (spks/sec)</Txt>
      <Txt x={164} y={538} size={16.5} font={ARIAL} left>Data</Txt>
      <Txt x={164} y={560} size={16.5} font={ARIAL} left>Regression Fit</Txt>
      <Txt x={482} y={542} size={16.5} font={ARIAL} left>Data</Txt>
      <Txt x={482} y={563} size={16.5} font={ARIAL} left>Regression Fit</Txt>
      <Txt x={813} y={541} size={16.5} font={ARIAL} left>Data</Txt>
      <Txt x={813} y={562} size={16.5} font={ARIAL} left>Regression Fit</Txt>

      <NeuronCpd left={110} sens={N1_SENS} cat={N1_CAT} yTicks />
      <NeuronCpd left={430} sens={N2_SENS} cat={N2_CAT} />
      <NeuronCpd left={750} sens={N3_SENS} cat={N3_CAT} />
      <Txt x={73} y={817} size={23} font={ARIAL} rotate={-90}>CPD (%)</Txt>
      <Txt x={322} y={792} size={20} font={ARIAL} left>Sensory</Txt>
      <Txt x={322} y={818} size={20} font={ARIAL} left>Category</Txt>

      {/* f–g */}
      <Txt x={311} y={978} size={25}>Active</Txt>
      <Txt x={868} y={972} size={25}>Passive</Txt>
      <TimeCpd left={123.6} top={1004.6} sens={F_SENS} sensSem={F_SENS_SEM} cat={F_CAT} catSem={F_CAT_SEM} />
      <TimeCpd left={676.9} top={1004.9} sens={G_SENS} sensSem={G_SENS_SEM} cat={G_CAT} catSem={G_CAT_SEM} />
      <Txt x={76} y={1127} size={25} rotate={-90}>CPD (%)</Txt>
      <Txt x={629} y={1127} size={25} rotate={-90}>CPD (%)</Txt>
      <Txt x={292} y={1287} size={23}>Time (Sec)</Txt>
      <Txt x={845} y={1288} size={23}>Time (Sec)</Txt>
      <Txt x={314} y={1018} size={17} left>Sensory</Txt>
      <Txt x={314} y={1043} size={17} left>Category</Txt>
      <Txt x={746} y={1025} size={17} left>Sensory</Txt>
      <Txt x={746} y={1050} size={17} left>Category</Txt>

      {/* h–i */}
      <BoxPanel plot={{ x: 189.3, y: 1330, w: 249.75, h: 210 }} data={hData} domain={[-2, 4]} ticks={[-2, 0, 2, 4]} padLeft={21.35} boxW={16.7} capW={7} sigSize={11} tickSize={19} />
      <BoxPanel plot={{ x: 706.7, y: 1327.7, w: 246.2, h: 243.3 }} data={iData} domain={[-1, 3]} ticks={[-1, 0, 1, 2, 3]} padLeft={25.1} boxW={15.3} capW={6} sigSize={15} tickSize={20} />
      <Txt x={143} y={1443} size={26} rotate={-90}>CPD (%)</Txt>
      <Txt x={663} y={1440} size={26} rotate={-90}>CPD (%)</Txt>
      <Txt x={224} y={1592} size={26.5}>Stimulus</Txt>
      <Txt x={333} y={1592} size={26.5}>Delay</Txt>
      <Txt x={427} y={1592} size={26.5}>R.W</Txt>
      <Txt x={758} y={1589} size={26.5}>Stimulus</Txt>
      <Txt x={864} y={1589} size={26.5}>Delay</Txt>
      <Txt x={946} y={1589} size={26.5}>R.W</Txt>
      {I_LEGEND.map((l, k) => (
        <Txt key={l.label} x={862} y={1337.3 + k * 17.6} size={16} left>{l.label}</Txt>
      ))}

      {/* legend glyphs, brackets, frame */}
      <svg width={1136} height={1616} style={{ position: "absolute", left: 0, top: 0, pointerEvents: "none" }}>
        <line x1={8.5} y1={0} x2={8.5} y2={1616} stroke="#6a6a6a" strokeWidth={1} />
        <line x1={103} x2={132.6} y1={118.7} y2={118.7} stroke="#e8202a" strokeWidth={1.3} />
        <line x1={103} x2={132.6} y1={139} y2={139} stroke="#3446a8" strokeWidth={1.3} />
        <line x1={103} x2={132.6} y1={158.7} y2={158.7} stroke="#1a1a1a" strokeWidth={1.3} />

        {[
          [118, 159, 538, 560],
          [436, 476.7, 542.3, 563.3],
          [766.7, 807.3, 541, 561.7],
        ].map(([a, b, y1, y2]) => (
          <g key={a}>
            <line x1={a} x2={b} y1={y1} y2={y1} stroke="#0b77a3" strokeWidth={4} />
            <line x1={a} x2={b} y1={y2} y2={y2} stroke="#000" strokeWidth={4} strokeDasharray="10 8" />
          </g>
        ))}
        <line x1={277} x2={317} y1={792} y2={792} stroke={SENS} strokeWidth={3} />
        <line x1={277} x2={317} y1={818} y2={818} stroke={CAT} strokeWidth={3} />

        <line x1={273.6} x2={306.4} y1={1018.3} y2={1018.3} stroke={SENS} strokeWidth={1.6} />
        <line x1={273.6} x2={306.4} y1={1043.3} y2={1043.3} stroke={CAT} strokeWidth={1.6} />
        <line x1={707.7} x2={740.9} y1={1025} y2={1025} stroke={SENS} strokeWidth={1.6} />
        <line x1={707.7} x2={740.9} y1={1050} y2={1050} stroke={CAT} strokeWidth={1.6} />

        {I_LEGEND.map((l, k) => (
          <rect key={l.kind} x={825} y={1331.5 + k * 17.6} width={31.7} height={11.8} fill={BOX_FILL[l.kind]} stroke="#555" strokeWidth={0.8} />
        ))}

        <g stroke="#555" strokeWidth={1.2} fill="none">
          <polyline points="224,1578 224,1569 419,1569 419,1578" />
          <line x1={323} x2={323} y1={1569} y2={1578} />
          <polyline points="757.7,1575 757.7,1566.7 942.7,1566.7 942.7,1575" />
          <line x1={862.3} x2={862.3} y1={1566.7} y2={1575} />
        </g>
      </svg>
    </div>
  );
}
